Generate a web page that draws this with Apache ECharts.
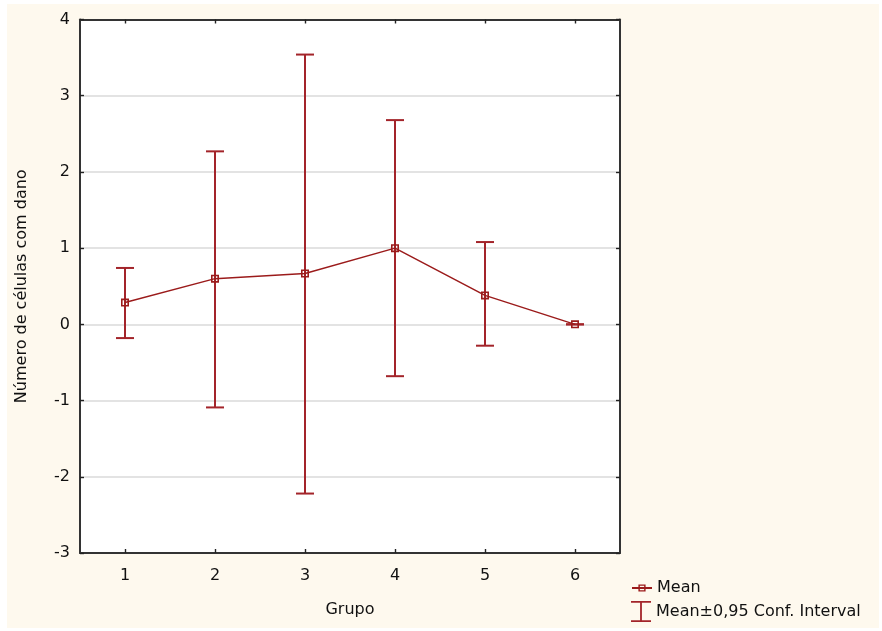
<!DOCTYPE html>
<html>
<head>
<meta charset="utf-8">
<script src="https://cdn.jsdelivr.net/npm/echarts@6/dist/echarts.min.js"></script>
<style>html,body{margin:0;padding:0;background:#fff}#c{width:882px;height:631px}</style>
</head>
<body>
<div id="c"></div>
<script>
var categories = ['1', '2', '3', '4', '5', '6'];
var meanValues = [0.286, 0.60, 0.667, 1.00, 0.38, 0.00];
var ciLower = [-0.18, -1.09, -2.22, -0.68, -0.28, 0.00];
var ciUpper = [0.74, 2.27, 3.54, 2.68, 1.08, 0.00];
var yTicks = [-3, -2, -1, 0, 1, 2, 3, 4];

var FONT = 'DejaVu Sans';
var TXT = '#111';
var LINE_C = '#9b1b1b';
var BAR_C = '#a3242a';

var errData = categories.map(function (c, i) { return [i, ciLower[i], ciUpper[i]]; });

var chart = echarts.init(document.getElementById('c'), null, { renderer: 'canvas' });
var axisLine = { show: true, onZero: false, lineStyle: { color: '#333', width: 2 } };
var tick = { show: true, inside: true, length: 4, lineStyle: { color: '#222', width: 1.4 } };

chart.setOption({
  animation: false,
  backgroundColor: '#fff',
  graphic: [{
    type: 'rect', z: -10, silent: true,
    shape: { x: 7, y: 4, width: 872, height: 624 },
    style: { fill: '#fef9ee' }
  }],
  grid: { left: 80, top: 19.5, width: 540, height: 533.5, show: true, backgroundColor: '#fff', borderWidth: 0 },
  legend: [{
    data: ['Mean'], orient: 'vertical', left: 631, top: 580, padding: 0,
    itemWidth: 20, itemHeight: 9, itemGap: 0,
    textStyle: { fontFamily: FONT, fontSize: 16, color: TXT }
  }, {
    data: [{ name: 'Mean\u00b10,95 Conf. Interval', icon: 'path://M0,0h20v1.8h-9.1v17.4h9.1v1.8h-20v-1.8h9.1v-17.4h-9.1z' }],
    orient: 'vertical', left: 631, top: 601, padding: 0,
    itemWidth: 20, itemHeight: 21,
    textStyle: { fontFamily: FONT, fontSize: 16, color: TXT }
  }],
  xAxis: [{
    type: 'category', data: categories, position: 'bottom', boundaryGap: true,
    name: 'Grupo', nameLocation: 'middle', nameGap: 49,
    nameTextStyle: { fontFamily: FONT, fontSize: 16, color: TXT },
    axisLine: axisLine, axisTick: Object.assign({ alignWithLabel: true }, tick),
    axisLabel: { fontFamily: FONT, fontSize: 16, color: TXT, margin: 15 },
    splitLine: { show: false }
  }, {
    type: 'category', data: categories, position: 'top', boundaryGap: true,
    axisLine: axisLine, axisTick: Object.assign({ alignWithLabel: true }, tick),
    axisLabel: { show: false }, splitLine: { show: false }
  }],
  yAxis: [{
    type: 'value', min: yTicks[0], max: yTicks[yTicks.length - 1], interval: 1, position: 'left',
    name: 'N\u00famero de c\u00e9lulas com dano', nameLocation: 'middle', nameGap: 50, nameRotate: 90,
    nameTextStyle: { fontFamily: FONT, fontSize: 16, color: TXT },
    axisLine: axisLine, axisTick: tick,
    axisLabel: { fontFamily: FONT, fontSize: 16, color: TXT, margin: 10 },
    splitLine: { show: true, lineStyle: { color: '#dadada', width: 1.5 } }
  }, {
    type: 'value', min: yTicks[0], max: yTicks[yTicks.length - 1], interval: 1, position: 'right',
    axisLine: axisLine, axisTick: tick, axisLabel: { show: false }, splitLine: { show: false }
  }],
  series: [{
    name: 'Mean\u00b10,95 Conf. Interval', type: 'custom', xAxisIndex: 0, yAxisIndex: 0,
    itemStyle: { color: BAR_C },
    data: errData, z: 2,
    renderItem: function (params, api) {
      var x = api.value(0);
      var lo = api.coord([x, api.value(1)]);
      var hi = api.coord([x, api.value(2)]);
      var hw = 9;
      var st = { stroke: BAR_C, lineWidth: 2, fill: null };
      return {
        type: 'group', children: [
          { type: 'line', shape: { x1: hi[0], y1: hi[1], x2: lo[0], y2: lo[1] }, style: st },
          { type: 'line', shape: { x1: hi[0] - hw, y1: hi[1], x2: hi[0] + hw, y2: hi[1] }, style: st },
          { type: 'line', shape: { x1: lo[0] - hw, y1: lo[1], x2: lo[0] + hw, y2: lo[1] }, style: st }
        ]
      };
    }
  }, {
    name: 'Mean', type: 'line', xAxisIndex: 0, yAxisIndex: 0, data: meanValues, z: 3,
    symbol: 'path://M0,0h8v8h-8z M1.6,1.6v4.8h4.8v-4.8z', symbolSize: 8,
    itemStyle: { color: LINE_C },
    lineStyle: { color: LINE_C, width: 1.5 }
  }]
});
</script>
</body>
</html>
